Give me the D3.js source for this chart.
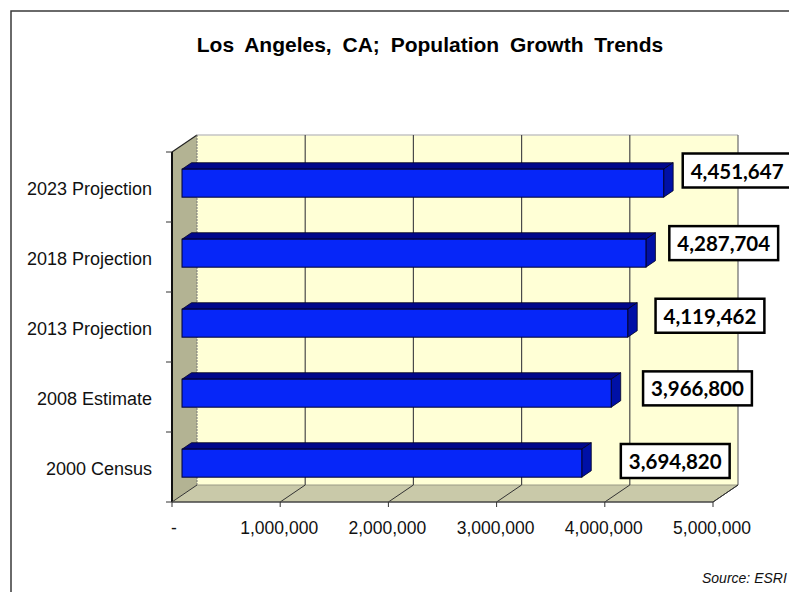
<!DOCTYPE html>
<html>
<head>
<meta charset="utf-8">
<script src="https://cdn.jsdelivr.net/npm/d3@7"></script>
<style>
  html, body { margin: 0; padding: 0; background: #fff; }
  svg { display: block; }
</style>
</head>
<body>
<svg id="chart" width="789" height="592"></svg>
<script>
// ---- data ----
const categories = ["2023 Projection", "2018 Projection", "2013 Projection", "2008 Estimate", "2000 Census"];
const values = [4451647, 4287704, 4119462, 3966800, 3694820];
const xTicks = [0, 1000000, 2000000, 3000000, 4000000, 5000000];
const title = "Los Angeles, CA; Population Growth Trends";
const source = "Source: ESRI";

// ---- layout ----
const svg = d3.select("#chart");
const W = 789, H = 592;
const DX = 25, DY = -17;            // 3D depth offset
const F0 = 0.4, BD = 0.38;          // bar front-face depth fraction, bar depth fraction

const x = d3.scaleLinear().domain([0, 5000000]).range([172, 713]);
const yGrid = d3.scaleBand().domain(categories).range([152, 502]);
const yBar = d3.scaleBand().domain(categories).range([152, 502])
  .paddingInner(0.6).paddingOuter(0.3).align(0.571);
// data-label placement (Excel's perspective label positioning)
const labelX = d3.scaleLinear().domain([0, 5000000]).range([373, 782]);
const labelY = d3.scalePoint().domain(categories).range([170.5, 461]);

const yTop = yGrid.range()[0], yBot = yGrid.range()[1];
const xMin = x(0), xMax = x(5000000);

// outer border
svg.append("path")
  .attr("d", `M11,${H} V11 H${W}`)
  .attr("fill", "none").attr("stroke", "#3a3a3a").attr("stroke-width", 1.5);

// title
svg.append("text")
  .attr("x", 430).attr("y", 44)
  .attr("text-anchor", "middle").attr("dominant-baseline", "central")
  .style("font-family", "'Liberation Sans', Arial, sans-serif")
  .style("font-weight", "bold").style("font-size", "21px")
  .style("word-spacing", "5px")
  .text(title);

// back wall
svg.append("rect")
  .attr("x", xMin + DX).attr("y", yTop + DY)
  .attr("width", xMax - xMin).attr("height", yBot - yTop)
  .attr("fill", "#FFFFD6");
svg.append("line")
  .attr("x1", xMin + DX).attr("x2", xMax + DX)
  .attr("y1", yTop + DY).attr("y2", yTop + DY)
  .attr("stroke", "#c4c4c4").attr("stroke-width", 1.5);

// side wall
svg.append("path")
  .attr("d", `M${xMin},${yTop} L${xMin + DX},${yTop + DY} L${xMin + DX},${yBot + DY} L${xMin},${yBot} Z`)
  .attr("fill", "#B3B393").attr("stroke", "none");
svg.append("line")
  .attr("x1", xMin).attr("y1", yTop).attr("x2", xMin + DX).attr("y2", yTop + DY)
  .attr("stroke", "#222").attr("stroke-width", 1.2);
svg.append("line")
  .attr("x1", xMin + DX).attr("y1", yTop + DY).attr("x2", xMin + DX).attr("y2", yBot + DY)
  .attr("stroke", "#777").attr("stroke-width", 1).attr("stroke-dasharray", "2,1");

// floor
svg.append("path")
  .attr("d", `M${xMin},${yBot} L${xMin + DX},${yBot + DY} L${xMax + DX},${yBot + DY} L${xMax},${yBot} Z`)
  .attr("fill", "#C9C9A9").attr("stroke", "none");
svg.append("line")
  .attr("x1", xMin + DX).attr("x2", xMax + DX)
  .attr("y1", yBot + DY).attr("y2", yBot + DY)
  .attr("stroke", "#9a9a86").attr("stroke-width", 1);
svg.append("line")
  .attr("x1", xMax).attr("y1", yBot).attr("x2", xMax + DX).attr("y2", yBot + DY)
  .attr("stroke", "#333").attr("stroke-width", 1);

// gridlines on back wall + floor
const gridVals = xTicks.filter(d => d > 0);
svg.append("g").selectAll("line").data(gridVals).join("line")
  .attr("x1", d => x(d) + DX).attr("x2", d => x(d) + DX)
  .attr("y1", yTop + DY).attr("y2", yBot + DY)
  .attr("stroke", d => d === 5000000 ? "#6a6a6a" : "#4a4a4a").attr("stroke-width", 1.2);
svg.append("g").selectAll("line").data(xTicks).join("line")
  .attr("x1", d => x(d)).attr("y1", yBot)
  .attr("x2", d => x(d) + DX).attr("y2", yBot + DY)
  .attr("stroke", "#333").attr("stroke-width", 1);

// axes
svg.append("line")
  .attr("x1", xMin).attr("x2", xMin).attr("y1", yTop).attr("y2", yBot)
  .attr("stroke", "#111").attr("stroke-width", 2);
svg.append("line")
  .attr("x1", xMin).attr("x2", xMax).attr("y1", yBot).attr("y2", yBot)
  .attr("stroke", "#444").attr("stroke-width", 1.5);

// category ticks
const catTicks = categories.map(c => yGrid(c)).concat([yBot]);
svg.append("g").selectAll("line").data(catTicks).join("line")
  .attr("x1", xMin - 6).attr("x2", xMin).attr("y1", d => d).attr("y2", d => d)
  .attr("stroke", "#333").attr("stroke-width", 1);
// value ticks
svg.append("g").selectAll("line").data(xTicks).join("line")
  .attr("x1", d => x(d)).attr("x2", d => x(d)).attr("y1", yBot).attr("y2", yBot + 5)
  .attr("stroke", "#333").attr("stroke-width", 1);

// category labels
svg.append("g").selectAll("text").data(categories).join("text")
  .attr("x", 152).attr("y", c => yGrid(c) + yGrid.bandwidth() / 2 + 2)
  .attr("text-anchor", "end").attr("dominant-baseline", "central")
  .style("font-family", "'Liberation Sans', Arial, sans-serif").style("font-size", "18px")
  .attr("fill", "#111")
  .text(c => c);

// value tick labels
const fmt = d3.format(",");
svg.append("g").selectAll("text").data(xTicks).join("text")
  .attr("x", d => x(d) + (d === 0 ? 2 : -1)).attr("y", 528)
  .attr("text-anchor", "middle").attr("dominant-baseline", "central")
  .style("font-family", "'Liberation Sans', Arial, sans-serif").style("font-size", "17.5px")
  .attr("fill", "#111")
  .text(d => d === 0 ? "-" : fmt(d));

// bars
const data = categories.map((c, i) => ({ c, v: values[i] }));
const bdx = BD * DX, bdy = BD * DY;
const bars = svg.append("g").selectAll("g").data(data).join("g");
bars.each(function (d) {
  const g = d3.select(this);
  const fx0 = x(0) + F0 * DX, fx1 = x(d.v) + F0 * DX;
  const fy0 = yBar(d.c) + F0 * DY, fy1 = fy0 + yBar.bandwidth();
  // top face
  g.append("path")
    .attr("d", `M${fx0},${fy0} L${fx0 + bdx},${fy0 + bdy} L${fx1 + bdx},${fy0 + bdy} L${fx1},${fy0} Z`)
    .attr("fill", "#00088C").attr("stroke", "#000020").attr("stroke-width", 0.8);
  // side face
  g.append("path")
    .attr("d", `M${fx1},${fy0} L${fx1 + bdx},${fy0 + bdy} L${fx1 + bdx},${fy1 + bdy} L${fx1},${fy1} Z`)
    .attr("fill", "#0010A6").attr("stroke", "#000020").attr("stroke-width", 0.8);
  // front face
  g.append("rect")
    .attr("x", fx0).attr("y", fy0).attr("width", fx1 - fx0).attr("height", fy1 - fy0)
    .attr("fill", "#0626F8").attr("stroke", "#000030").attr("stroke-width", 1);
});

// data labels
const lab = svg.append("g").selectAll("g").data(data).join("g");
lab.each(function (d) {
  const g = d3.select(this);
  const cx = labelX(d.v), cy = labelY(d.c);
  const rect = g.append("rect");
  const t = g.append("text")
    .attr("x", cx).attr("y", cy)
    .attr("text-anchor", "middle").attr("dominant-baseline", "central")
    .style("font-family", "Lato, 'Open Sans', sans-serif").style("font-weight", "bold")
    .style("font-size", "20.5px").attr("fill", "#000")
    .text(fmt(d.v));
  const w = t.node().getComputedTextLength() + 16;
  rect.attr("x", cx - w / 2).attr("y", cy - 17).attr("width", w).attr("height", 34)
    .attr("fill", "#fff").attr("stroke", "#000").attr("stroke-width", 2.5);
});

// source
svg.append("text")
  .attr("x", 702).attr("y", 578)
  .attr("dominant-baseline", "central")
  .style("font-family", "'Liberation Sans', Arial, sans-serif").style("font-style", "italic")
  .style("font-size", "14px").attr("fill", "#111")
  .text(source);
</script>
</body>
</html>
